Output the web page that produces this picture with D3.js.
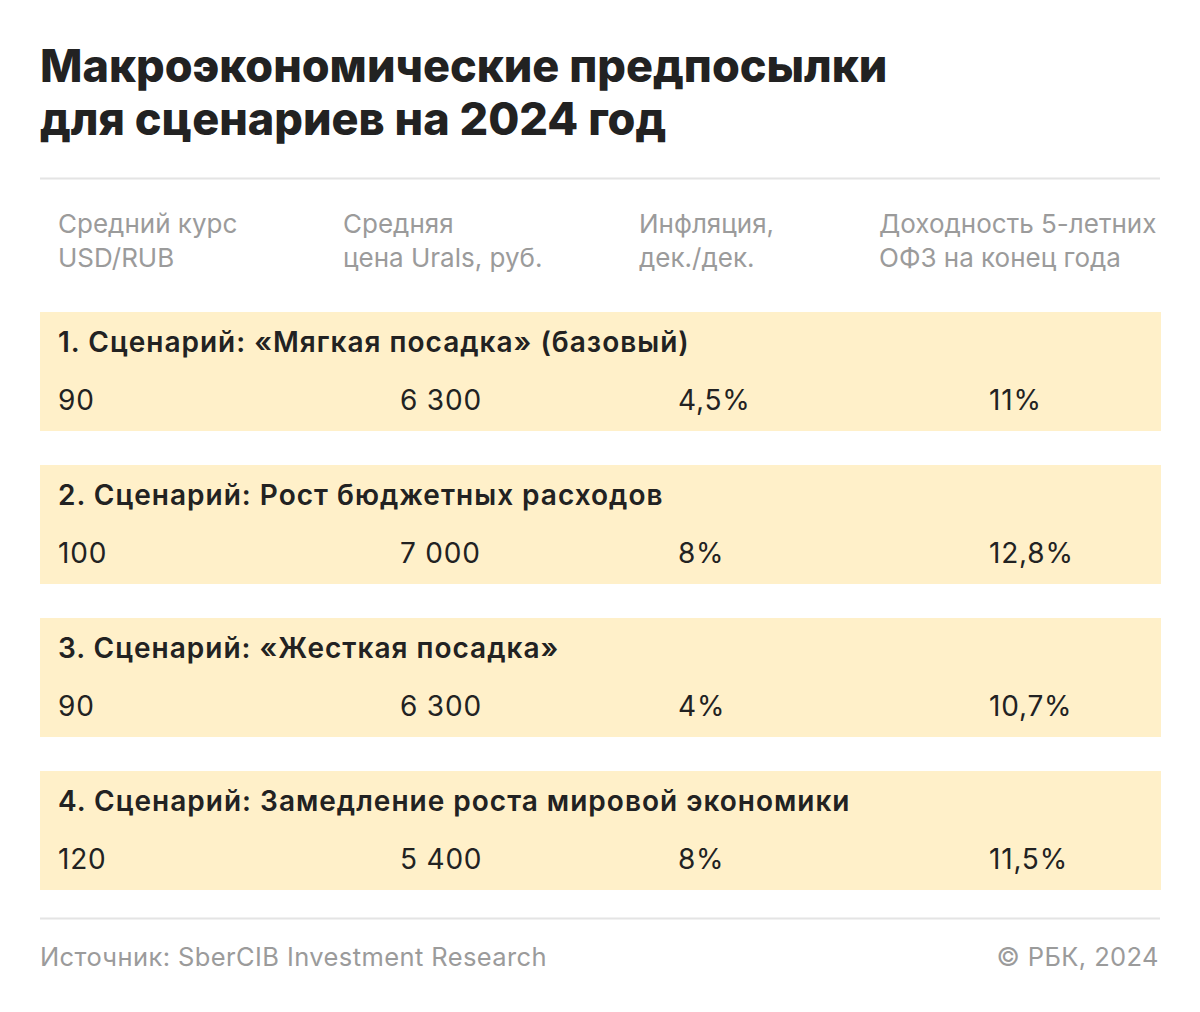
<!DOCTYPE html>
<html>
<head>
<meta charset="utf-8">
<script src="https://cdn.jsdelivr.net/npm/d3@7"></script>
<style>
  body { margin: 0; background: #fff; }
  svg text { font-family: Inter, "Noto Sans", sans-serif; }
</style>
</head>
<body>
<svg id="chart"></svg>
<script>
// DATA
const titleLines = ['Макроэкономические предпосылки', 'для сценариев на 2024 год'];
const headers = [
    ['Средний курс', 'USD/RUB'],
    ['Средняя', 'цена Urals, руб.'],
    ['Инфляция,', 'дек./дек.'],
    ['Доходность 5-летних', 'ОФЗ на конец года']
];
const scenarios = [
    '1. Сценарий: «Мягкая посадка» (базовый)',
    '2. Сценарий: Рост бюджетных расходов',
    '3. Сценарий: «Жесткая посадка»',
    '4. Сценарий: Замедление роста мировой экономики'
];
const usdRub = ['90', '100', '90', '120'];
const urals = ['6 300', '7 000', '6 300', '5 400'];
const inflation = ['4,5%', '8%', '4%', '8%'];
const ofz = ['11%', '12,8%', '10,7%', '11,5%'];
const source = 'Источник: SberCIB Investment Research';
const credit = '© РБК, 2024';

const width = 1200, height = 1012;
const left = 40, right = 1161;

let svg = d3.select('#chart')
    .attr('width', width)
    .attr('height', height);

// title
svg.append('g')
    .selectAll('text')
    .data(titleLines)
    .enter()
    .append('text')
    .attr('x', left)
    .attr('y', (d, i) => 82 + i * 53)
    .attr('font-size', 45)
    .attr('font-weight', 800)
    .attr('fill', '#222')
    .text(d => d);

// rules
svg.selectAll('line.rule')
    .data([178.5, 918.5])
    .enter()
    .append('line')
    .attr('class', 'rule')
    .attr('x1', left).attr('x2', right - 1)
    .attr('y1', d => d).attr('y2', d => d)
    .attr('stroke', '#e4e4e4')
    .attr('stroke-width', 2);

// columns: header x and value x
const headerX = d3.scaleOrdinal().domain(d3.range(4)).range([58, 343, 639, 879]);
const valueX = d3.scaleOrdinal().domain(d3.range(4)).range([58, 400, 678, 989]);

let headG = svg.append('g')
    .selectAll('text')
    .data(headers)
    .enter()
    .append('text')
    .attr('font-size', 26)
    .attr('fill', '#9b9b9b');

headG.selectAll('tspan')
    .data((d, i) => d.map(t => ({t: t, col: i})))
    .enter()
    .append('tspan')
    .attr('x', d => headerX(d.col))
    .attr('y', (d, i) => 233 + i * 34)
    .text(d => d.t);

// rows
const y = d3.scaleBand()
    .domain(scenarios)
    .range([312, 890])
    .paddingInner(34 / 153)
    .paddingOuter(0);

let rows = svg.append('g')
    .selectAll('g')
    .data(scenarios.map((s, i) => ({name: s, vals: [usdRub[i], urals[i], inflation[i], ofz[i]]})))
    .enter()
    .append('g')
    .attr('transform', d => `translate(0,${y(d.name)})`);

rows.append('rect')
    .attr('x', left)
    .attr('width', right - left)
    .attr('height', y.bandwidth())
    .attr('fill', '#fff0c9');

rows.append('text')
    .attr('x', 58)
    .attr('y', 40)
    .attr('font-size', 28)
    .attr('font-weight', 600)
    .attr('letter-spacing', 1)
    .attr('fill', '#222')
    .text(d => d.name);

rows.selectAll('text.val')
    .data(d => d.vals)
    .enter()
    .append('text')
    .attr('class', 'val')
    .attr('x', (d, i) => valueX(i))
    .attr('y', 98)
    .attr('font-size', 28)
    .attr('letter-spacing', 0.8)
    .attr('fill', '#222')
    .text(d => d);

// footer
svg.append('text')
    .attr('x', left)
    .attr('y', 966)
    .attr('font-size', 25.5)
    .attr('letter-spacing', 0.4)
    .attr('fill', '#9b9b9b')
    .text(source);

svg.append('text')
    .attr('x', right - 2)
    .attr('y', 966)
    .attr('text-anchor', 'end')
    .attr('font-size', 25.5)
    .attr('letter-spacing', 0.4)
    .attr('fill', '#9b9b9b')
    .text(credit);
</script>
</body>
</html>
